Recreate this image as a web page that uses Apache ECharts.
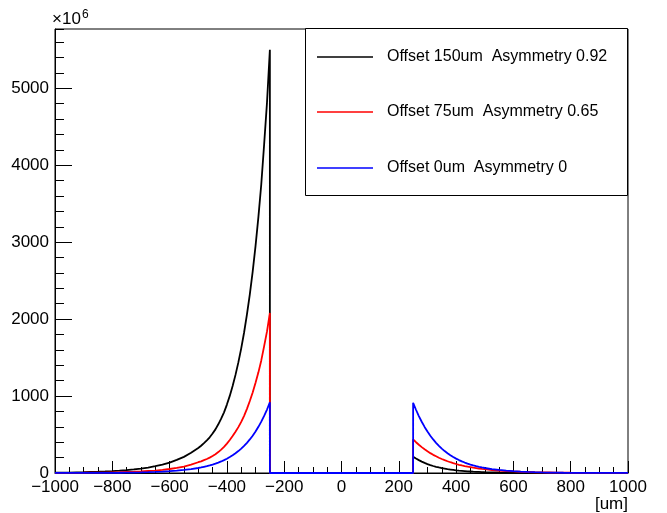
<!DOCTYPE html>
<html>
<head>
<meta charset="utf-8">
<script src="https://cdn.jsdelivr.net/npm/echarts@6/dist/echarts.min.js"></script>
<style>html,body{margin:0;padding:0;background:#fff;}#c{width:667px;height:513px;}</style>
</head>
<body>
<div id="c"></div>
<script>
const seriesNames = ['Offset 150um  Asymmetry 0.92', 'Offset 75um  Asymmetry 0.65', 'Offset 0um  Asymmetry 0'];
const seriesColors = ['#000000', '#ff0000', '#0000ff'];

const leftX = [-1000,-975,-950,-925,-900,-875,-850,-825,-800,-775,-750,-725,-700,-675,-650,-625,-600,-575,-550,-525,
  -500,-490,-480,-470,-460,-450,-440,-430,-420,-410,-400,-390,-380,-370,-360,-350,-340,-330,-320,-310,-300,-290,-280,-270,-260,-250];
const blackLeft = [4,5,6,8,10,13,16,20,25,31,38,47,58,71,88,108,135,170,210,262,
  325,354,388,424,464,513,567,633,706,788,889,1002,1130,1275,1437,1620,1826,2060,2322,2618,2952,3328,3752,4272,4817,5500];
const redLeft = [1,1.5,2,2.5,3,4,5,6,8,10,13,16,20,26,32,41,52,66,84,108,
  140,152,167,182,200,221,244,272,304,339,382,429,480,536,596,664,743,834,936,1047,1172,1308,1463,1649,1840,2080];
const blueLeft = [0.5,0.6,0.8,1,1.2,1.5,1.8,2.2,2.7,3.5,4.5,6,8,10.5,14,18,24,31,40,51,
  65,72,80,88,98,109,121,135,150,167,186,207,230,256,285,317,352,392,436,485,539,600,667,742,825,918];

const rightX = [250,260,270,280,290,300,310,320,330,340,350,360,370,380,390,400,410,420,430,440,450,460,470,480,490,500,
  525,550,575,600,625,650,675,700,725,750,775,800,825,850,875,900,925,950,975,1000];
const blackRight = [212,188,167,148,131,116,103,91,81,72,64,57,50,45,40,35,31,28,25,22,19.5,17,15,13.5,12,10.5,
  8,6.3,5,4,3.2,2.5,2,1.6,1.3,1,0.8,0.6,0.5,0.4,0.3,0.25,0.2,0.15,0.1,0.1];
const redRight = [437,400,367,336,308,282,258,236,217,198,182,167,153,140,128,117,107,98,90,83,76,69,64,58,53,49,
  39,31,25,20,16,13,10,8,6.5,5,4,3,2.5,2,1.6,1.3,1,0.8,0.6,0.5];
const blueRight = [913,822,740,666,599,539,485,436,392,353,317,285,257,231,208,187,168,151,136,122,110,99,89,80,72,65,
  51,40,31,24,18,14,10.5,8,6,4.5,3.5,2.7,2.2,1.8,1.5,1.2,1,0.8,0.6,0.5];

const gapEdges = [-250, 250];
const xTicks = {min: -1000, max: 1000, interval: 200};
const yTicks = {min: 0, max: 5770, major: 1000, minor: 200};

function build(left, right) {
  const d = leftX.map((x, i) => [x, left[i]]);
  d.push([gapEdges[0], 0]);
  d.push([gapEdges[1], 0]);
  rightX.forEach((x, i) => d.push([x, right[i]]));
  return d;
}
const allData = [build(blackLeft, blackRight), build(redLeft, redRight), build(blueLeft, blueRight)];

const FONT = 'Liberation Sans, Arial, Helvetica, sans-serif';
const chart = echarts.init(document.getElementById('c'), null, {renderer: 'canvas'});

const rowCenters = [57, 112, 168];
const legends = seriesNames.map((n, i) => ({
  data: [n], left: 317, top: rowCenters[i] - 9, orient: 'vertical', padding: 0,
  icon: 'rect', itemWidth: 56, itemHeight: 1.6, itemGap: 0, itemTextGap: 5,
  selectedMode: false,
  textStyle: {fontSize: 16, fontFamily: FONT, color: '#000', lineHeight: 18, padding: [0, 0, 0, 9]}
}));

chart.setOption({
  animation: false,
  backgroundColor: '#fff',
  grid: {left: 55, right: 39, top: 29, bottom: 40, show: true, borderColor: '#000', borderWidth: 1, backgroundColor: 'transparent'},
  legend: legends,
  graphic: [
    {type: 'rect', shape: {x: 305.5, y: 28.5, width: 322, height: 167}, style: {fill: '#fff', stroke: '#000', lineWidth: 1}, z: 0, silent: true},
    {type: 'text', x: 52, y: 28, style: {text: '×10', font: '17px ' + FONT, fill: '#000', textVerticalAlign: 'bottom', textAlign: 'left'}},
    {type: 'text', x: 82, y: 9, style: {text: '6', font: '12px ' + FONT, fill: '#000', textVerticalAlign: 'top', textAlign: 'left'}},
    {type: 'text', x: 628, y: 513, style: {text: '[um]', font: '17px ' + FONT, fill: '#000', textVerticalAlign: 'bottom', textAlign: 'right'}}
  ],
  xAxis: {
    type: 'value', min: xTicks.min, max: xTicks.max, interval: xTicks.interval,
    axisLine: {show: true, onZero: false, lineStyle: {color: '#000', width: 1}},
    axisTick: {show: true, inside: true, length: 12, lineStyle: {color: '#000', width: 1}},
    minorTick: {show: true, splitNumber: 4, length: 6, lineStyle: {color: '#000', width: 1}},
    splitLine: {show: false},
    axisLabel: {fontSize: 17, fontFamily: FONT, color: '#000', margin: 6,
      formatter: v => v < 0 ? '\u2212' + Math.abs(v) : String(v)}
  },
  yAxis: [
    {
      type: 'value', min: yTicks.min, max: yTicks.max, interval: yTicks.major, position: 'left',
      axisLine: {show: true, onZero: false, lineStyle: {color: '#000', width: 1}},
      axisTick: {show: true, inside: true, length: 17, lineStyle: {color: '#000', width: 1}},
      splitLine: {show: false},
      axisLabel: {fontSize: 17, fontFamily: FONT, color: '#000', margin: 6, showMaxLabel: false, formatter: v => String(v)}
    },
    {
      type: 'value', min: yTicks.min, max: yTicks.max, interval: yTicks.minor, position: 'left',
      axisLine: {show: false, onZero: false},
      axisTick: {show: true, inside: true, length: 9, lineStyle: {color: '#000', width: 1}},
      splitLine: {show: false},
      axisLabel: {show: false}
    }
  ],
  series: seriesNames.map((n, i) => ({
    name: n, type: 'line', data: allData[i], yAxisIndex: 0,
    showSymbol: false, symbol: 'none', clip: true,
    lineStyle: {color: seriesColors[i], width: 1.8},
    itemStyle: {color: seriesColors[i]},
    z: 3 + i
  }))
});
</script>
</body>
</html>
